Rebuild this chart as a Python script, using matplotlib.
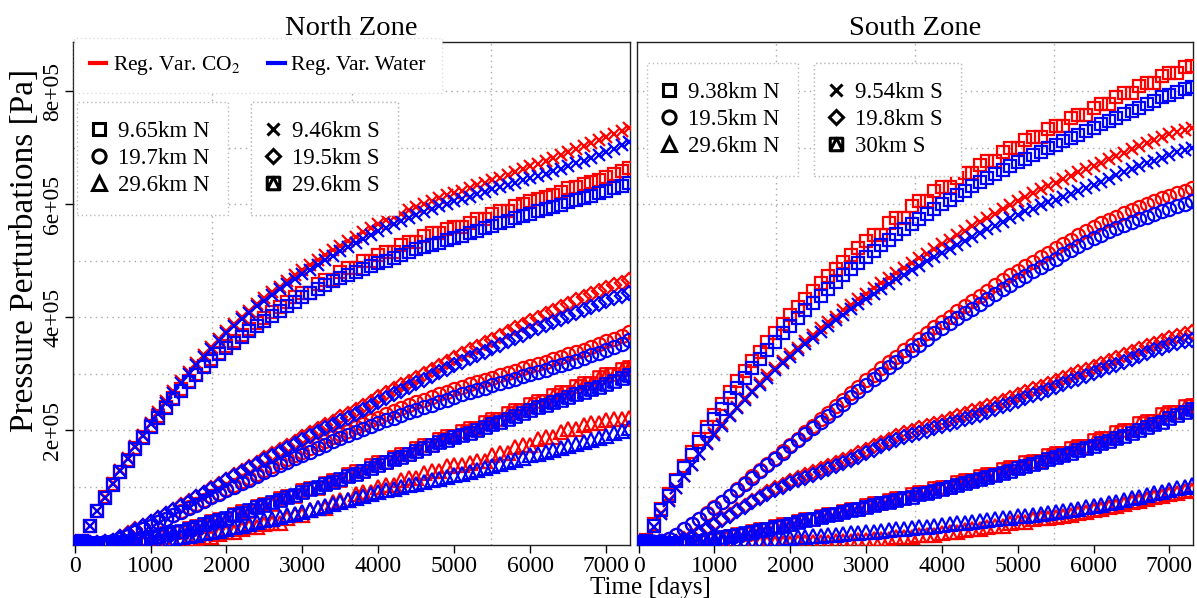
import matplotlib.pyplot as plt
import numpy as np
from matplotlib.lines import Line2D
from matplotlib.path import Path

plt.rcParams["font.family"] = ["Liberation Serif", "DejaVu Serif"]
plt.rcParams["mathtext.fontset"] = "stix"

# time axis, days (one sample every 100 days)
days = np.arange(0, 7301, 100)

# ---- North Zone, pressure in kPa ----
north_x_co2 = [0, 3, 31, 57, 82, 106, 129, 151, 172, 192,
               213, 232, 251, 269, 286, 302, 318, 333, 347, 361,
               375, 387, 400, 411, 423, 433, 444, 454, 464, 474,
               484, 492, 501, 510, 518, 526, 534, 542, 550, 557,
               565, 571, 577, 583, 589, 595, 600, 605, 611, 616,
               620, 624, 628, 633, 638, 642, 647, 651, 656, 662,
               667, 671, 676, 681, 687, 692, 697, 702, 708, 713,
               719, 724, 730, 735]
north_x_water = [0, 3, 30, 56, 80, 104, 127, 149, 170, 190,
                 210, 229, 248, 266, 283, 299, 315, 330, 344, 358,
                 372, 384, 396, 408, 419, 429, 439, 449, 458, 467,
                 476, 484, 493, 501, 509, 517, 524, 531, 538, 545,
                 552, 558, 564, 570, 575, 581, 586, 591, 596, 600,
                 605, 609, 613, 618, 622, 626, 630, 634, 638, 642,
                 646, 650, 654, 658, 663, 667, 672, 677, 682, 687,
                 692, 698, 704, 710]
north_sq_co2 = [0, 3, 31, 57, 81, 104, 126, 147, 168, 188,
                207, 224, 241, 257, 272, 287, 300, 314, 326, 337,
                348, 358, 369, 379, 389, 399, 409, 418, 427, 436,
                443, 443, 458, 466, 466, 480, 487, 487, 500, 500,
                510, 516, 516, 527, 533, 533, 543, 548, 548, 556,
                560, 560, 566, 574, 574, 583, 588, 588, 597, 601,
                605, 609, 613, 617, 621, 628, 631, 635, 640, 643,
                648, 654, 659, 664]
north_sq_water = [0, 3, 30, 56, 80, 103, 125, 146, 166, 186,
                  205, 222, 239, 255, 270, 285, 298, 311, 323, 334,
                  345, 355, 365, 375, 384, 393, 402, 411, 419, 427,
                  435, 442, 449, 456, 463, 469, 475, 480, 485, 490,
                  495, 500, 505, 510, 515, 520, 524, 528, 532, 536,
                  540, 544, 549, 553, 558, 562, 566, 570, 575, 579,
                  583, 587, 591, 595, 599, 603, 607, 611, 615, 619,
                  623, 628, 632, 637]
north_d_co2 = [0, 0, 0, 0, 1, 4, 11, 17, 24, 31,
               38, 45, 52, 59, 67, 74, 82, 89, 97, 104,
               112, 120, 128, 135, 142, 150, 157, 164, 172, 179,
               187, 194, 201, 209, 215, 223, 229, 236, 243, 250,
               258, 265, 272, 279, 285, 293, 300, 307, 314, 321,
               328, 335, 341, 347, 354, 360, 367, 373, 380, 386,
               393, 398, 405, 411, 418, 423, 430, 436, 441, 447,
               452, 457, 461, 465]
north_d_water = [0, 0, 0, 0, 1, 4, 10, 16, 23, 30,
                 37, 44, 51, 58, 66, 73, 81, 88, 96, 103,
                 111, 118, 126, 133, 140, 147, 154, 161, 168, 175,
                 182, 189, 196, 203, 209, 216, 222, 229, 235, 242,
                 250, 257, 263, 270, 276, 283, 289, 296, 302, 308,
                 315, 321, 327, 333, 339, 345, 351, 357, 363, 369,
                 375, 380, 386, 391, 397, 402, 408, 413, 418, 423,
                 428, 433, 438, 442]
north_o_co2 = [0, 0, 0, 0, 1, 3, 8, 13, 19, 25,
               31, 37, 43, 50, 56, 63, 69, 76, 83, 89,
               96, 103, 109, 116, 123, 129, 136, 143, 149, 156,
               162, 168, 175, 181, 187, 193, 199, 205, 211, 217,
               222, 228, 233, 239, 244, 249, 254, 259, 264, 268,
               273, 277, 281, 285, 289, 293, 297, 301, 305, 309,
               313, 317, 321, 325, 330, 334, 338, 342, 347, 352,
               357, 362, 367, 373]
north_o_water = [0, 0, 0, 0, 1, 3, 8, 13, 19, 25,
                 31, 37, 43, 49, 55, 62, 68, 74, 81, 87,
                 93, 100, 106, 112, 119, 125, 131, 138, 144, 150,
                 156, 162, 168, 174, 180, 186, 191, 197, 202, 207,
                 212, 217, 222, 227, 232, 236, 241, 245, 250, 254,
                 258, 263, 267, 271, 275, 279, 283, 287, 291, 295,
                 299, 303, 307, 311, 315, 319, 323, 327, 332, 337,
                 342, 347, 353, 359]
north_st_co2 = [0, 0, 0, 0, 0, 1, 2, 4, 4, 9,
                11, 11, 17, 20, 20, 27, 31, 31, 39, 43,
                43, 52, 56, 56, 65, 69, 69, 79, 83, 83,
                93, 97, 97, 107, 112, 112, 122, 127, 127, 138,
                143, 143, 153, 158, 158, 168, 173, 173, 184, 189,
                189, 199, 203, 203, 214, 219, 219, 230, 235, 235,
                246, 251, 251, 262, 267, 267, 278, 283, 283, 294,
                299, 299, 308, 312]
north_st_water = [0, 0, 0, 0, 0, 1, 2, 4, 6, 8,
                  10, 13, 16, 19, 22, 25, 29, 33, 37, 41,
                  45, 49, 54, 58, 63, 67, 72, 76, 81, 85,
                  90, 95, 99, 104, 108, 113, 118, 123, 128, 133,
                  138, 143, 148, 153, 158, 163, 168, 173, 178, 182,
                  187, 191, 195, 200, 205, 210, 215, 220, 225, 230,
                  235, 240, 244, 249, 253, 258, 263, 268, 272, 277,
                  282, 287, 292, 297]
north_tri_co2 = [0, 0, 0, 0, 0, 0, 0, 0, 0, 0,
                 0, 1, 1, 2, 4, 4, 8, 10, 10, 16,
                 19, 19, 25, 28, 28, 33, 35, 35, 45, 49,
                 49, 58, 62, 62, 72, 76, 76, 86, 90, 90,
                 100, 103, 103, 112, 115, 115, 124, 127, 127, 136,
                 139, 139, 142, 146, 146, 155, 159, 159, 170, 174,
                 174, 184, 188, 188, 197, 201, 201, 209, 212, 212,
                 217, 219, 219, 221]
north_tri_water = [0, 0, 0, 0, 0, 0, 0, 0, 1, 2,
                   3, 5, 6, 8, 10, 12, 14, 17, 19, 22,
                   25, 28, 31, 34, 37, 40, 43, 46, 49, 52,
                   55, 58, 62, 65, 69, 72, 76, 79, 83, 86,
                   90, 93, 96, 99, 102, 105, 108, 111, 114, 117,
                   120, 123, 126, 129, 132, 136, 140, 144, 147, 151,
                   155, 158, 162, 165, 169, 172, 176, 179, 183, 186,
                   190, 194, 199, 203]

# ---- South Zone, pressure in kPa ----
south_sq_co2 = [0, 5, 33, 60, 86, 112, 137, 161, 184, 206,
                227, 247, 267, 286, 304, 322, 339, 356, 372, 388,
                403, 418, 432, 446, 460, 473, 486, 498, 510, 522,
                534, 545, 545, 566, 576, 576, 596, 605, 605, 623,
                631, 631, 647, 655, 655, 670, 677, 677, 692, 699,
                699, 713, 719, 719, 733, 739, 739, 752, 758, 758,
                771, 777, 777, 790, 796, 796, 809, 815, 815, 827,
                833, 833, 842, 845]
south_sq_water = [0, 4, 31, 58, 84, 109, 133, 156, 178, 199,
                  219, 238, 257, 275, 292, 309, 325, 341, 356, 371,
                  385, 399, 412, 425, 438, 450, 462, 474, 485, 496,
                  507, 517, 527, 537, 547, 556, 565, 574, 583, 592,
                  600, 608, 616, 624, 632, 639, 646, 653, 660, 667,
                  674, 680, 687, 693, 699, 705, 711, 717, 723, 729,
                  735, 741, 747, 753, 759, 765, 771, 777, 783, 789,
                  794, 799, 804, 808]
south_x_co2 = [0, 3, 28, 53, 76, 98, 119, 139, 158, 177,
               194, 210, 226, 241, 256, 270, 283, 297, 310, 322,
               335, 346, 358, 369, 380, 391, 401, 412, 422, 432,
               441, 451, 460, 469, 478, 487, 495, 504, 512, 521,
               529, 537, 545, 553, 561, 568, 576, 583, 591, 598,
               605, 612, 619, 626, 632, 638, 644, 650, 656, 662,
               667, 673, 679, 685, 691, 697, 702, 708, 713, 719,
               724, 728, 732, 735]
south_x_water = [0, 3, 28, 52, 75, 97, 118, 138, 157, 175,
                 192, 208, 224, 239, 253, 267, 280, 293, 306, 318,
                 330, 341, 352, 363, 374, 384, 394, 404, 414, 423,
                 432, 441, 450, 459, 467, 475, 483, 491, 499, 507,
                 514, 521, 528, 535, 542, 549, 556, 562, 569, 575,
                 581, 587, 592, 598, 603, 608, 613, 618, 623, 628,
                 634, 640, 645, 651, 656, 662, 667, 672, 677, 682,
                 687, 692, 696, 700]
south_o_co2 = [0, 0, 1, 3, 8, 15, 24, 33, 43, 53,
               63, 73, 84, 95, 107, 118, 129, 140, 151, 163,
               174, 185, 197, 208, 219, 230, 242, 253, 265, 276,
               288, 298, 309, 320, 330, 341, 351, 362, 372, 382,
               392, 401, 411, 420, 429, 438, 447, 456, 465, 474,
               482, 490, 498, 506, 514, 522, 530, 537, 545, 553,
               560, 566, 572, 578, 584, 590, 595, 600, 605, 610,
               615, 619, 624, 628]
south_o_water = [0, 0, 1, 3, 8, 15, 24, 33, 42, 52,
                 62, 72, 83, 94, 105, 116, 127, 138, 149, 160,
                 171, 182, 193, 203, 214, 225, 236, 247, 258, 269,
                 280, 290, 300, 311, 321, 331, 341, 351, 361, 371,
                 380, 389, 398, 407, 415, 424, 432, 441, 449, 457,
                 465, 473, 481, 488, 496, 503, 511, 518, 525, 533,
                 540, 546, 552, 557, 563, 568, 573, 578, 583, 588,
                 592, 597, 601, 606]
south_d_co2 = [0, 0, 0, 0, 0, 2, 7, 12, 19, 26,
               34, 42, 50, 58, 66, 74, 82, 90, 97, 103,
               109, 115, 120, 125, 131, 136, 141, 147, 153, 159,
               165, 171, 177, 183, 189, 194, 198, 203, 207, 211,
               215, 220, 224, 228, 233, 237, 242, 247, 252, 257,
               262, 267, 272, 277, 282, 287, 292, 297, 302, 307,
               312, 317, 322, 327, 333, 338, 343, 348, 353, 358,
               363, 366, 370, 373]
south_d_water = [0, 0, 0, 0, 0, 2, 6, 11, 18, 25,
                 32, 40, 48, 56, 64, 72, 80, 87, 94, 100,
                 106, 111, 116, 121, 126, 131, 136, 141, 147, 153,
                 159, 165, 171, 177, 182, 187, 191, 195, 199, 203,
                 207, 211, 215, 219, 223, 227, 232, 237, 242, 247,
                 252, 257, 262, 266, 271, 276, 281, 286, 291, 296,
                 301, 306, 311, 316, 321, 326, 331, 336, 341, 346,
                 350, 354, 357, 360]
south_st_co2 = [0, 0, 0, 0, 0, 0, 0, 1, 1, 5,
                8, 8, 13, 16, 16, 21, 24, 24, 30, 33,
                33, 39, 42, 42, 48, 51, 51, 57, 60, 60,
                67, 70, 70, 77, 80, 80, 87, 90, 90, 97,
                100, 100, 108, 111, 111, 119, 122, 122, 131, 134,
                134, 143, 146, 146, 156, 159, 159, 169, 172, 172,
                183, 186, 186, 197, 200, 200, 212, 216, 216, 228,
                232, 232, 242, 245]
south_st_water = [0, 0, 0, 0, 0, 0, 0, 1, 3, 5,
                  8, 10, 13, 15, 18, 20, 23, 25, 28, 31,
                  34, 37, 40, 43, 46, 49, 52, 55, 58, 61,
                  64, 67, 70, 73, 76, 79, 82, 86, 89, 92,
                  96, 99, 103, 106, 110, 113, 117, 121, 124, 128,
                  132, 136, 140, 144, 148, 152, 156, 160, 164, 168,
                  172, 177, 181, 186, 190, 195, 200, 205, 210, 215,
                  221, 226, 232, 237]
south_tri_co2 = [0, 0, 0, 0, 0, 0, 0, 0, 0, 0,
                 0, 0, 0, 0, 0, 0, 0, 0, 0, 0,
                 0, 1, 1, 1, 2, 2, 3, 3, 4, 5,
                 5, 7, 8, 8, 10, 11, 11, 14, 15, 15,
                 18, 19, 19, 23, 24, 24, 29, 30, 30, 36,
                 37, 37, 43, 44, 44, 46, 48, 50, 53, 55,
                 58, 61, 63, 66, 69, 72, 75, 78, 81, 84,
                 87, 89, 92, 94]
south_tri_water = [0, 0, 0, 0, 0, 0, 0, 0, 0, 0,
                   1, 1, 2, 2, 3, 4, 5, 6, 7, 8,
                   9, 10, 11, 12, 13, 14, 15, 16, 17, 18,
                   19, 20, 22, 23, 24, 25, 27, 28, 29, 31,
                   32, 33, 35, 36, 38, 39, 41, 42, 44, 45,
                   47, 48, 50, 52, 53, 55, 57, 59, 61, 63,
                   66, 68, 71, 73, 76, 79, 82, 85, 88, 91,
                   94, 97, 100, 103]

north_labels_a = ["9.65km N", "19.7km N", "29.6km N"]
north_labels_b = ["9.46km S", "19.5km S", "29.6km S"]
south_labels_a = ["9.38km N", "19.5km N", "29.6km N"]
south_labels_b = ["9.54km S", "19.8km S", "30km S"]

# R pch 14: square with a triangle inside
sq_tri = Path(
    [(-1, -1), (1, -1), (1, 1), (-1, 1), (-1, -1), (-1, -1), (0, 1), (1, -1)],
    [Path.MOVETO, Path.LINETO, Path.LINETO, Path.LINETO, Path.CLOSEPOLY,
     Path.MOVETO, Path.LINETO, Path.LINETO],
)
MARKERS = {"sq": ("s", 9), "o": ("o", 9.5), "tri": ("^", 10),
           "x": ("x", 9), "d": ("D", 7.5), "st": (sq_tri, 9)}
RED = "#ff0000"
BLUE = "#0000ff"

north = [("sq", north_sq_co2, north_sq_water), ("o", north_o_co2, north_o_water),
         ("tri", north_tri_co2, north_tri_water), ("x", north_x_co2, north_x_water),
         ("d", north_d_co2, north_d_water), ("st", north_st_co2, north_st_water)]
south = [("sq", south_sq_co2, south_sq_water), ("o", south_o_co2, south_o_water),
         ("tri", south_tri_co2, south_tri_water), ("x", south_x_co2, south_x_water),
         ("d", south_d_co2, south_d_water), ("st", south_st_co2, south_st_water)]

W, H = 1197, 598
fig = plt.figure(figsize=(W / 100, H / 100), dpi=100)
ax_n = fig.add_axes([73 / W, 53 / H, 557 / W, 503 / H])
ax_s = fig.add_axes([637 / W, 53 / H, 556 / W, 503 / H])

XLIM = (-20, 7310)
YLIM = (-3500, 8.87e5)


def draw_panel(ax, series, title):
    for key, co2, _ in series:
        m, ms = MARKERS[key]
        ax.plot(days, np.array(co2) * 1e3, ls="none", marker=m, ms=ms, mew=1.6,
                mfc="none", mec=RED, zorder=3)
    for key, _, water in series:
        m, ms = MARKERS[key]
        ax.plot(days, np.array(water) * 1e3, ls="none", marker=m, ms=ms, mew=1.6,
                mfc="none", mec=BLUE, zorder=3)
    ax.set_xlim(XLIM)
    ax.set_ylim(YLIM)
    # dotted grid: every 1e5 Pa, and quarter panel width
    for yv in np.arange(1e5, 8.01e5, 1e5):
        ax.axhline(yv, color="#a8a8a8", ls=(0, (1, 3)), lw=1, zorder=1)
    for f in (0.25, 0.5, 0.75):
        ax.axvline(XLIM[0] + f * (XLIM[1] - XLIM[0]), color="#a8a8a8",
                   ls=(0, (1, 3)), lw=1, zorder=1)
    ax.set_xticks(np.arange(0, 7001, 1000))
    ax.tick_params(axis="x", labelsize=17, length=6, width=1, direction="out", pad=2)
    for sp in ax.spines.values():
        sp.set_linewidth(1.0)
        sp.set_color("#222222")
    ax.set_title(title, fontsize=20.5, pad=5)


def marker_legend(ax, keys, labels, xy):
    handles = []
    for key in keys:
        m, ms = MARKERS[key]
        handles.append(Line2D([], [], ls="none", marker=m, ms=ms, mew=2.2,
                              mfc="none", mec="black", color="black"))
    leg = ax.legend(handles, labels, loc="upper left", bbox_to_anchor=xy,
                    bbox_transform=fig.transFigure, fontsize=16.5, frameon=True,
                    fancybox=False, framealpha=1, borderpad=0.82,
                    labelspacing=0.27, handlelength=0.3, handletextpad=0.65,
                    borderaxespad=0)
    fr = leg.get_frame()
    fr.set_linestyle((0, (1, 2)))
    fr.set_edgecolor("#bbbbbb")
    fr.set_linewidth(1)
    ax.add_artist(leg)


draw_panel(ax_n, north, "North Zone")
draw_panel(ax_s, south, "South Zone")

ax_n.set_yticks([2e5, 4e5, 6e5, 8e5])
ax_n.set_yticklabels(["2e+05", "4e+05", "6e+05", "8e+05"], rotation=90, va="center")
ax_n.tick_params(axis="y", labelsize=17, length=6, width=1, pad=1)
ax_s.set_yticks([])

# line legend at the top of the north panel
line_handles = [Line2D([], [], color=RED, lw=3), Line2D([], [], color=BLUE, lw=3)]
leg1 = ax_n.legend(line_handles, ["Reg. Var. CO$_2$", "Reg. Var. Water"],
                   loc="upper left", bbox_to_anchor=(74 / W, 1 - 38 / H),
                   bbox_transform=fig.transFigure, ncol=2, fontsize=15.5,
                   frameon=True, fancybox=False, framealpha=1, borderpad=0.75,
                   handlelength=0.75, handletextpad=0.3, columnspacing=1.3,
                   borderaxespad=0)
fr1 = leg1.get_frame()
fr1.set_linestyle((0, (1, 2)))
fr1.set_edgecolor("#dddddd")
ax_n.add_artist(leg1)

marker_legend(ax_n, ["sq", "o", "tri"], north_labels_a, (77 / W, 1 - 102 / H))
marker_legend(ax_n, ["x", "d", "st"], north_labels_b, (251 / W, 1 - 102 / H))
marker_legend(ax_s, ["sq", "o", "tri"], south_labels_a, (647 / W, 1 - 63 / H))
marker_legend(ax_s, ["x", "d", "st"], south_labels_b, (814 / W, 1 - 63 / H))

fig.text(25 / W, 1 - 250 / H, "Pressure Perturbations [Pa]", rotation=90,
         ha="center", va="center", fontsize=24)
fig.text(650 / W, 1 - 588 / H, "Time [days]", ha="center", va="center", fontsize=18)

fig.savefig("out.png", dpi=100)
